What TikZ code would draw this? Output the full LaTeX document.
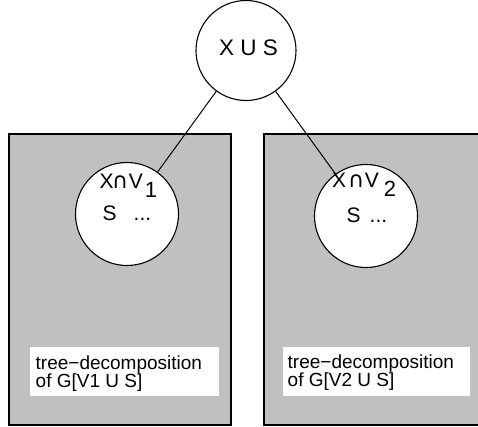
\documentclass[tikz,border=0pt]{standalone}
\usepackage{fontspec}
\setmainfont{Liberation Sans}
\newfontfamily\symfont{DejaVu Sans}
\definecolor{boxgray}{RGB}{192,192,192}
\tikzset{
  panel/.style={draw=black, line width=1.4pt, fill=boxgray},
  labelbox/.style={fill=white, draw=none},
  bag/.style={circle, draw=black, line width=1.1pt, fill=white, minimum size=#1, inner sep=0pt},
  edge/.style={draw=black, line width=1pt},
  txt/.style={anchor=base west, inner sep=0pt, font=\fontsize{#1}{#1}\selectfont},
  lbl/.style={anchor=north west, inner sep=0pt, align=left, font=\fontsize{19}{18.5}\selectfont}
}
\newcommand{\capsym}{{\symfont\fontsize{22}{22}\selectfont ∩}}
\begin{document}
\begin{tikzpicture}[x=1pt,y=-1pt]
\useasboundingbox (0,0) rectangle (478,427);
% panels
\path[panel] (9,134) rectangle (231,425);
\path[panel] (264,134) rectangle (482,425);
\path[labelbox] (30,347) rectangle (219,396);
\path[labelbox] (283,347) rectangle (470,396);
% bags
\node[bag=100pt] (top) at (246,50.5) {};
\node[bag=103pt] (lc) at (127,214) {};
\node[bag=103pt] (rc) at (366,216) {};
\draw[edge] (top) -- (lc);
\draw[edge] (top) -- (rc);
% texts
\node[txt=22.5] (toptxt) at (219,55.5) {X U S};
\node[txt=21] (l1) at (99.5,188.5) {X\hspace{-1.5pt}\capsym\hspace{0.5pt}V\hspace{2pt}\raisebox{-9.5pt}{\fontsize{22}{22}\selectfont 1}};
\node[txt=21] (l2) at (102.5,220.5) {S\hspace{17pt}...};
\node[txt=21] (r1) at (332,187.5) {X\hspace{2pt}\capsym\hspace{0.5pt}V\hspace{5pt}\raisebox{-9.5pt}{\fontsize{22}{22}\selectfont 2}};
\node[txt=21] (r2) at (346.5,222.5) {S\hspace{9pt}...};
\node[lbl] (lt) at (35.5,355.5) {tree−decomposition\\of G[V1 U S]};
\node[lbl] (rt) at (287.5,354.5) {tree−decomposition\\of G[V2 U S]};
\end{tikzpicture}
\end{document}
